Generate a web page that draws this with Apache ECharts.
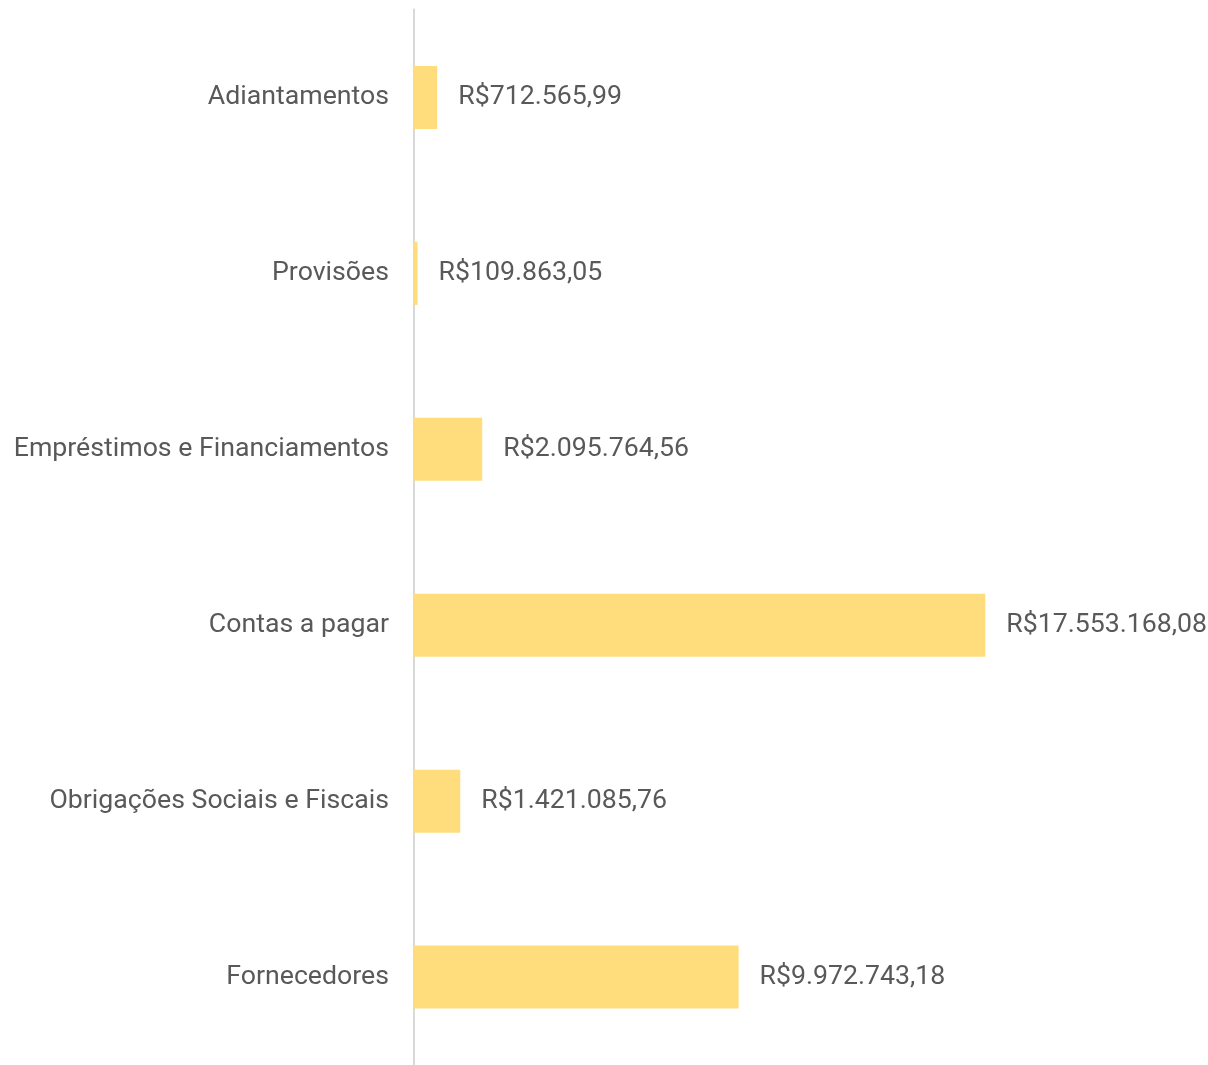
<!DOCTYPE html>
<html>
<head>
<meta charset="utf-8">
<script src="https://cdn.jsdelivr.net/npm/echarts@6/dist/echarts.min.js"></script>
<style>
  html, body { margin: 0; padding: 0; background: #fff; }
  #chart { width: 1208px; height: 1065px; }
</style>
</head>
<body>
<div id="chart"></div>
<script>
// categories, top to bottom
const CATEGORIES = ['Adiantamentos', 'Provisões', 'Empréstimos e Financiamentos', 'Contas a pagar', 'Obrigações Sociais e Fiscais', 'Fornecedores']
const VALUES = [712565.99, 109863.05, 2095764.56, 17553168.08, 1421085.76, 9972743.18]

// R$ com separador de milhar "." e decimal ","
function brl(v) {
  const parts = v.toFixed(2).split('.')
  const int = parts[0].replace(/\B(?=(\d{3})+(?!\d))/g, '.')
  return 'R$' + int + ',' + parts[1]
}

const myChart = echarts.init(document.getElementById('chart'))
myChart.setOption({
  animation: false,
  grid: {
    top: 9.5,
    height: 1057,
    left: 414,
    right: 143
  },
  xAxis: {
    type: 'value',
    min: 0,
    max: 20000000,
    show: false
  },
  yAxis: {
    type: 'category',
    inverse: true,
    data: CATEGORIES,
    axisLine: {
      show: true,
      lineStyle: { color: '#d9d9d9', width: 2 }
    },
    axisTick: { show: false },
    axisLabel: {
      color: '#595959',
      fontFamily: 'Roboto',
      fontSize: 26.7,
      margin: 25
    }
  },
  series: [{
    type: 'bar',
    data: VALUES,
    barWidth: 63,
    itemStyle: { color: '#ffdc7c' },
    label: {
      show: true,
      position: 'right',
      distance: 21,
      color: '#595959',
      fontFamily: 'Roboto',
      fontSize: 26.7,
      formatter: p => brl(p.value)
    }
  }]
})
</script>
</body>
</html>
